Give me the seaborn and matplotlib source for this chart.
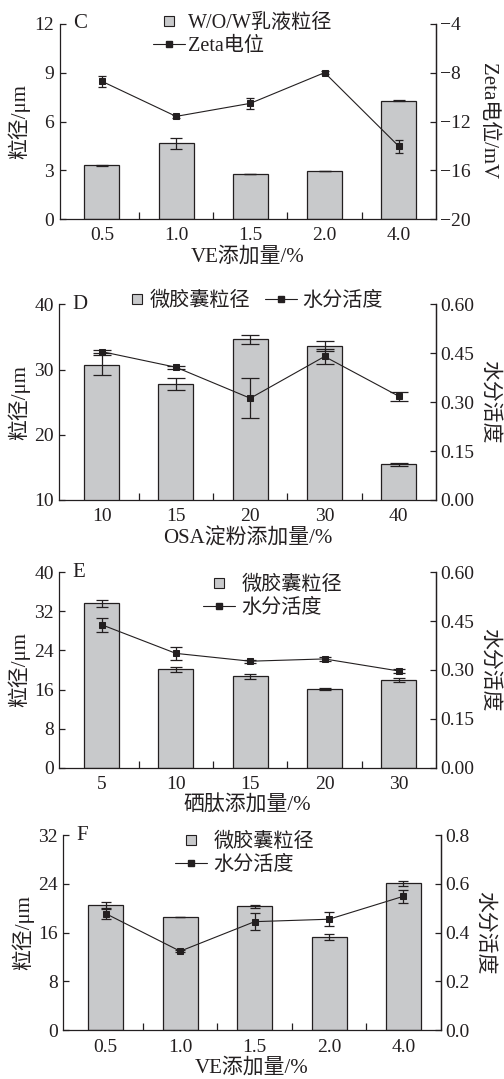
import numpy as np
import pandas as pd
import matplotlib
matplotlib.use("Agg")
import matplotlib.pyplot as plt
from matplotlib.lines import Line2D
from matplotlib.ticker import FormatStrFormatter
import seaborn as sns

sns.set_style("ticks")
plt.rcParams["font.family"] = ["Liberation Serif", "Noto Sans CJK SC"]
plt.rcParams["axes.unicode_minus"] = True

INK = "#231f20"
BAR = "#c8c9cb"
TICK_FS = 14
LABEL_FS = 15
LEGEND_FS = 14.5

# ---- panel C: VE dosage vs emulsion droplet size and zeta potential
c_cats = ["0.5", "1.0", "1.5", "2.0", "4.0"]
c_size = [3.30, 4.65, 2.78, 2.96, 7.28]
c_size_err = [0.04, 0.32, 0.02, 0.02, 0.02]
c_zeta = [-8.70, -11.58, -10.51, -7.99, -14.04]
c_zeta_err = [0.47, 0.10, 0.45, 0.15, 0.55]

# ---- panel D: OSA starch dosage
d_cats = ["10", "15", "20", "30", "40"]
d_size = [30.65, 27.80, 34.63, 33.62, 15.45]
d_size_err = [1.56, 0.88, 0.64, 0.72, 0.25]
d_aw = [0.455, 0.407, 0.312, 0.440, 0.318]
d_aw_err = [0.004, 0.004, 0.061, 0.022, 0.014]

# ---- panel E: selenium peptide dosage
e_cats = ["5", "10", "15", "20", "30"]
e_size = [33.65, 20.14, 18.70, 16.10, 17.90]
e_size_err = [0.75, 0.55, 0.50, 0.20, 0.40]
e_aw = [0.439, 0.351, 0.327, 0.334, 0.297]
e_aw_err = [0.021, 0.021, 0.005, 0.007, 0.006]

# ---- panel F: VE dosage vs microcapsule size and water activity
f_cats = ["0.5", "1.0", "1.5", "2.0", "4.0"]
f_size = [20.48, 18.57, 20.31, 15.29, 24.08]
f_size_err = [0.57, 0.05, 0.20, 0.46, 0.40]
f_aw = [0.478, 0.324, 0.445, 0.455, 0.549]
f_aw_err = [0.021, 0.005, 0.036, 0.029, 0.027]

W, H = 504, 1079
fig = plt.figure(figsize=(W / 100, H / 100), dpi=100)


def add_axes(left, right, top, bottom):
    return fig.add_axes([left / W, 1 - bottom / H, (right - left) / W, (bottom - top) / H])


def panel(rect, letter, cats, size, size_err, sec, sec_err,
          ylim_l, yticks_l, ylim_r, yticks_r, rfmt,
          xlabel, rlabel, cap_bar, cap_pt, rlabelpad):
    ax = add_axes(*rect)
    df = pd.DataFrame({"cat": cats, "size": size})
    sns.barplot(data=df, x="cat", y="size", order=cats, color=BAR,
                saturation=1, edgecolor=INK, linewidth=0.9, width=0.47,
                errorbar=None, ax=ax, zorder=2)
    pos = np.arange(len(cats))
    ax.errorbar(pos, size, yerr=size_err, fmt="none", ecolor=INK,
                elinewidth=0.9, capsize=cap_bar, capthick=0.9, zorder=3)

    ax2 = ax.twinx()
    sns.lineplot(x=pos, y=sec, color=INK, lw=0.8, marker="s", ms=5,
                 mfc=INK, mec=INK, ax=ax2, zorder=4)
    ax2.errorbar(pos, sec, yerr=sec_err, fmt="none", ecolor=INK,
                 elinewidth=0.9, capsize=cap_pt, capthick=0.9, zorder=3)

    ax.set_xlim(-0.57, 4.5)
    ax.set_ylim(*ylim_l)
    ax.set_yticks(yticks_l)
    ax2.set_ylim(*ylim_r)
    ax2.set_yticks(yticks_r)
    if rfmt:
        ax2.yaxis.set_major_formatter(FormatStrFormatter(rfmt))

    for a in (ax, ax2):
        a.spines["top"].set_visible(False)
        for s in a.spines.values():
            s.set_color(INK)
            s.set_linewidth(0.9)
    ax2.spines["left"].set_visible(False)
    ax2.spines["bottom"].set_visible(False)

    ax.set_xticks(pos)
    ax.set_xticklabels(cats)
    ax.set_xticks([0.5, 1.5, 2.5, 3.5], minor=True)
    ax.tick_params(axis="x", which="major", length=0, pad=6,
                   labelsize=TICK_FS, colors=INK)
    ax.tick_params(axis="x", which="minor", direction="in", length=5,
                   width=0.9, color=INK)
    ax.tick_params(axis="y", direction="in", length=4.5, width=0.9,
                   pad=4, labelsize=TICK_FS, colors=INK)
    ax2.tick_params(axis="y", direction="in", length=4.5, width=0.9,
                    pad=3, labelsize=TICK_FS, colors=INK)

    ax.set_xlabel(xlabel, fontsize=LABEL_FS, color=INK, labelpad=2)
    ax.set_ylabel("粒径/μm", fontsize=LABEL_FS, color=INK, labelpad=3)
    ax2.set_ylabel(rlabel, fontsize=LABEL_FS, color=INK, rotation=270,
                   va="bottom", labelpad=rlabelpad)
    ax.text(0.035, 1.0, letter, transform=ax.transAxes, ha="left",
            va="center", fontsize=LABEL_FS, color=INK)
    return ax, ax2


def handles(bar_label, line_label):
    hb = Line2D([], [], ls="none", marker="s", ms=7, mfc=BAR, mec=INK,
                mew=0.8, label=bar_label)
    hl = Line2D([], [], color=INK, lw=0.8, marker="s", ms=5, mfc=INK,
                mec=INK, label=line_label)
    return hb, hl


def px(x, y):
    return (x / W, 1 - y / H)


legend_kw = dict(frameon=False, fontsize=LEGEND_FS, borderpad=0,
                 borderaxespad=0, labelcolor=INK, loc="center left")

# C
axC, axC2 = panel((59.5, 436, 24, 219), "C", c_cats, c_size, c_size_err,
                  c_zeta, c_zeta_err, (0, 12), [0, 3, 6, 9, 12],
                  (-20, -4), [-20, -16, -12, -8, -4], None,
                  "VE添加量/%", "Zeta电位/mV", 4.5, 3.0, 5)
hb, hl = handles("W/O/W乳液粒径", "Zeta电位")
fig.legend(handles=[hb, hl], bbox_to_anchor=px(153, 35),
           bbox_transform=fig.transFigure, handlelength=1.6,
           handletextpad=0.15, labelspacing=0.2, **legend_kw)

# D
axD, axD2 = panel((59.3, 436, 304.3, 500), "D", d_cats, d_size, d_size_err,
                  d_aw, d_aw_err, (10, 40), [10, 20, 30, 40],
                  (0, 0.6), [0, 0.15, 0.30, 0.45, 0.60], "%.2f",
                  "OSA淀粉添加量/%", "水分活度", 6.5, 6.5, 4)
hb, hl = handles("微胶囊粒径", "水分活度")
fig.legend(handles=[hb], bbox_to_anchor=px(131, 301),
           bbox_transform=fig.transFigure, handlelength=0.6,
           handletextpad=0.3, **legend_kw)
fig.legend(handles=[hl], bbox_to_anchor=px(265, 301),
           bbox_transform=fig.transFigure, handlelength=1.6,
           handletextpad=0.25, **legend_kw)

# E
axE, axE2 = panel((59.3, 436, 572.3, 767.7), "E", e_cats, e_size, e_size_err,
                  e_aw, e_aw_err, (0, 40), [0, 8, 16, 24, 32, 40],
                  (0, 0.6), [0, 0.15, 0.30, 0.45, 0.60], "%.2f",
                  "硒肽添加量/%", "水分活度", 4.0, 4.0, 4)
hb, hl = handles("微胶囊粒径", "水分活度")
fig.legend(handles=[hb, hl], bbox_to_anchor=px(203, 597),
           bbox_transform=fig.transFigure, handlelength=1.6,
           handletextpad=0.3, labelspacing=0.2, **legend_kw)

# F
axF, axF2 = panel((63.3, 440.7, 835, 1030.3), "F", f_cats, f_size, f_size_err,
                  f_aw, f_aw_err, (0, 32), [0, 8, 16, 24, 32],
                  (0, 0.8), [0, 0.2, 0.4, 0.6, 0.8], "%.1f",
                  "VE添加量/%", "水分活度", 3.6, 3.6, 4)
hb, hl = handles("微胶囊粒径", "水分活度")
fig.legend(handles=[hb, hl], bbox_to_anchor=px(175, 854),
           bbox_transform=fig.transFigure, handlelength=1.6,
           handletextpad=0.3, labelspacing=0.2, **legend_kw)

fig.savefig("out.png", dpi=100)
